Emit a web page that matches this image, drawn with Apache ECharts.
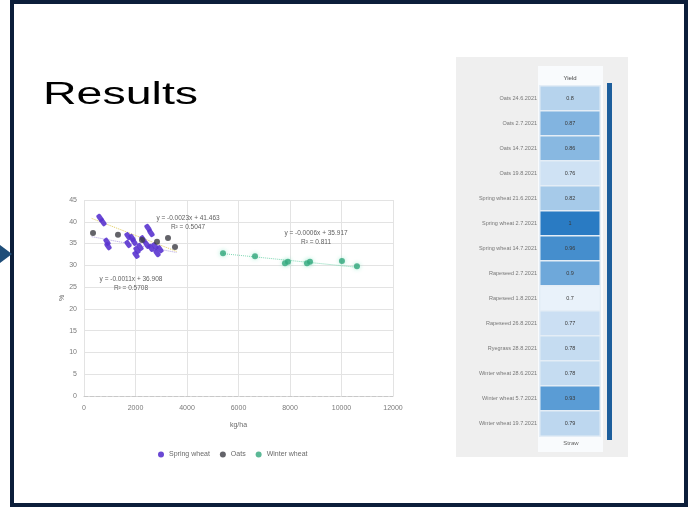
<!DOCTYPE html>
<html>
<head>
<meta charset="utf-8">
<script src="https://cdn.jsdelivr.net/npm/echarts@6/dist/echarts.min.js"></script>
<style>
  html, body { margin: 0; padding: 0; background: #ffffff; }
  #chart { width: 692px; height: 512px; }
</style>
</head>
<body>
<div id="chart"></div>
<script>
// ---- scatter: dry matter vs. yield ----
const springWheat = [
  [621, 40.9], [738, 39.9], [893, 35.4], [932, 34.4], [1709, 34.9], [1709, 36.7],
  [1864, 36.3], [1941, 35.4], [2019, 32.4], [2058, 33.5], [2175, 34.2], [2291, 36.0],
  [2446, 34.7], [2485, 38.6], [2602, 37.4], [2602, 34.0], [2757, 34.4], [2835, 32.8],
  [2951, 33.7]
];
const oats = [
  [350, 37.4], [1320, 37.0], [2252, 35.8], [2835, 35.4], [3262, 36.3], [3534, 34.2]
];
const winterWheat = [
  [5398, 32.8], [6640, 32.1], [7805, 30.5], [7920, 30.8], [8660, 30.5], [8776, 30.8],
  [10018, 31.0], [10600, 29.8]
];
const seriesNames = ['Spring wheat', 'Oats', 'Winter wheat'];

// linear trend lines (slope, intercept, x-range) with their labels
const trendSlope = [-0.0023, -0.0011, -0.0006];
const trendIntercept = [41.463, 36.908, 35.917];
const trendFrom = [300, 300, 5400];
const trendTo = [3600, 3600, 10600];
const trendR2 = ['0.5047', '0.5708', '0.811'];

const xTicks = { min: 0, max: 12000, step: 2000 };
const yTicks = { min: 0, max: 45, step: 5 };

// ---- heatmap: correlation per sampling ----
const rowLabels = [
  'Oats 24.6.2021', 'Oats 2.7.2021', 'Oats 14.7.2021', 'Oats 19.8.2021',
  'Spring wheat 21.6.2021', 'Spring wheat 2.7.2021', 'Spring wheat 14.7.2021',
  'Rapeseed 2.7.2021', 'Rapeseed 1.8.2021', 'Rapeseed 26.8.2021',
  'Ryegrass 28.8.2021', 'Winter wheat 28.6.2021', 'Winter wheat 5.7.2021',
  'Winter wheat 19.7.2021'
];
const colLabels = ['Yield'];
const cellValues = [0.80, 0.87, 0.86, 0.76, 0.82, 1.00, 0.96, 0.90, 0.70, 0.77, 0.78, 0.78, 0.93, 0.79];

const heatData = cellValues.map((v, i) => [0, i, v]);

function trendLine(i) {
  return [
    [trendFrom[i], trendSlope[i] * trendFrom[i] + trendIntercept[i]],
    [trendTo[i], trendSlope[i] * trendTo[i] + trendIntercept[i]]
  ];
}
function eqText(i) {
  return 'y = ' + trendSlope[i].toFixed(4) + 'x + ' + trendIntercept[i].toFixed(3) + '\nR² = ' + trendR2[i];
}

const chart = echarts.init(document.getElementById('chart'), null, { renderer: 'canvas' });

const axisLabelStyle = { fontSize: 7, color: '#7a7a7a', fontFamily: 'Liberation Sans' };
const eqStyle = { fontSize: 6.5, fill: '#606060', fontFamily: 'Liberation Sans', align: 'center', lineHeight: 9 };

chart.setOption({
  backgroundColor: '#ffffff',
  animation: false,
  textStyle: { fontFamily: 'Liberation Sans' },
  graphic: [
    // slide frame
    { type: 'rect', shape: { x: 12, y: 2, width: 674, height: 503 },
      style: { fill: 'none', stroke: '#0c1e3a', lineWidth: 4 }, z: 10 },
    // connector arrow entering from the left
    { type: 'polygon', shape: { points: [[0, 245], [12, 254], [0, 263]] },
      style: { fill: '#1f4e79' }, z: 11 },
    // title
    { type: 'text', x: 43, y: 111, scaleX: 1.5, originX: 0, originY: 0,
      style: { text: 'Results', fontSize: 31, fill: '#000000', fontFamily: 'Liberation Sans', verticalAlign: 'bottom' } },
    // table panel
    { type: 'rect', shape: { x: 456, y: 57, width: 172, height: 400 },
      style: { fill: '#efefef' }, z: -10 },
    { type: 'rect', shape: { x: 538, y: 66, width: 65, height: 386 },
      style: { fill: '#f9fbfd' }, z: -9 },
    { type: 'rect', shape: { x: 607, y: 83, width: 5, height: 357 },
      style: { fill: '#1d5e9c' }, z: 5 },
    { type: 'text', x: 571, y: 443,
      style: { text: 'Straw', fontSize: 6, fill: '#666666', align: 'center', verticalAlign: 'middle', fontFamily: 'Liberation Sans' } },
    // trend line equations
    { type: 'text', x: 188, y: 214, style: Object.assign({ text: eqText(0) }, eqStyle), z: 20 },
    { type: 'text', x: 131, y: 275, style: Object.assign({ text: eqText(1) }, eqStyle), z: 20 },
    { type: 'text', x: 316, y: 229, style: Object.assign({ text: eqText(2) }, eqStyle), z: 20 }
  ],
  legend: {
    data: seriesNames,
    left: 153, top: 446,
    icon: 'circle', itemWidth: 6, itemHeight: 6, itemGap: 10,
    textStyle: { fontSize: 7, color: '#6a6a6a' }
  },
  visualMap: {
    show: false, seriesIndex: 6, dimension: 2, min: 0.7, max: 1,
    inRange: { color: ['#e9f2fa', '#c9def2', '#8fbce3', '#5d9ed6', '#2a7bc3'] }
  },
  grid: [
    { left: 84, top: 200, width: 309, height: 196 },
    { left: 540, top: 86, width: 60, height: 350 }
  ],
  xAxis: [
    { gridIndex: 0, type: 'value', min: xTicks.min, max: xTicks.max, interval: xTicks.step,
      name: 'kg/ha', nameLocation: 'middle', nameGap: 26,
      nameTextStyle: { fontSize: 7, color: '#6a6a6a' },
      axisLabel: Object.assign({ margin: 9, formatter: v => String(v) }, axisLabelStyle),
      axisLine: { lineStyle: { color: '#c8c8c8', type: 'dashed' } },
      axisTick: { show: false },
      splitLine: { lineStyle: { color: '#e3e3e3' } } },
    { gridIndex: 1, type: 'category', data: colLabels, position: 'top',
      axisLabel: { fontSize: 6, color: '#444444', margin: 5 },
      axisLine: { show: false }, axisTick: { show: false } }
  ],
  yAxis: [
    { gridIndex: 0, type: 'value', min: yTicks.min, max: yTicks.max, interval: yTicks.step,
      name: '%', nameLocation: 'middle', nameGap: 16, nameRotate: 90,
      nameTextStyle: { fontSize: 7, color: '#6a6a6a' },
      axisLabel: Object.assign({ margin: 7 }, axisLabelStyle),
      axisLine: { show: false }, axisTick: { show: false },
      splitLine: { lineStyle: { color: '#e3e3e3' } } },
    { gridIndex: 1, type: 'category', data: rowLabels, inverse: true,
      axisLabel: { fontSize: 5.5, color: '#777777', margin: 3 },
      axisLine: { show: false }, axisTick: { show: false } }
  ],
  series: [
    { name: seriesNames[0], type: 'scatter', xAxisIndex: 0, yAxisIndex: 0, data: springWheat,
      symbol: 'roundRect', symbolSize: [5, 8], symbolRotate: 35,
      itemStyle: { color: '#5a34cf', opacity: 0.9 }, z: 4 },
    { name: seriesNames[1], type: 'scatter', xAxisIndex: 0, yAxisIndex: 0, data: oats,
      symbol: 'circle', symbolSize: 6,
      itemStyle: { color: '#3c3c44' }, z: 5 },
    { name: seriesNames[2], type: 'scatter', xAxisIndex: 0, yAxisIndex: 0, data: winterWheat,
      symbol: 'circle', symbolSize: 6,
      itemStyle: { color: '#32a67c', shadowBlur: 4, shadowColor: 'rgba(80,220,170,0.6)' }, z: 4 },
    { type: 'line', xAxisIndex: 0, yAxisIndex: 0, data: trendLine(0), symbol: 'none',
      lineStyle: { color: '#e2cc5a', width: 1, type: 'dotted' }, silent: true, z: 3 },
    { type: 'line', xAxisIndex: 0, yAxisIndex: 0, data: trendLine(1), symbol: 'none',
      lineStyle: { color: '#b0a0e0', width: 1, type: 'dotted' }, silent: true, z: 3 },
    { type: 'line', xAxisIndex: 0, yAxisIndex: 0, data: trendLine(2), symbol: 'none',
      lineStyle: { color: '#7fd8b4', width: 1, type: 'dotted' }, silent: true, z: 3 },
    { type: 'heatmap', xAxisIndex: 1, yAxisIndex: 1, data: heatData,
      label: { show: true, fontSize: 5.5, color: '#3a3a3a',
        formatter: p => String(+p.value[2].toFixed(2)) },
      itemStyle: { borderColor: '#e4edf6', borderWidth: 1.5 } }
  ]
});
</script>
</body>
</html>
